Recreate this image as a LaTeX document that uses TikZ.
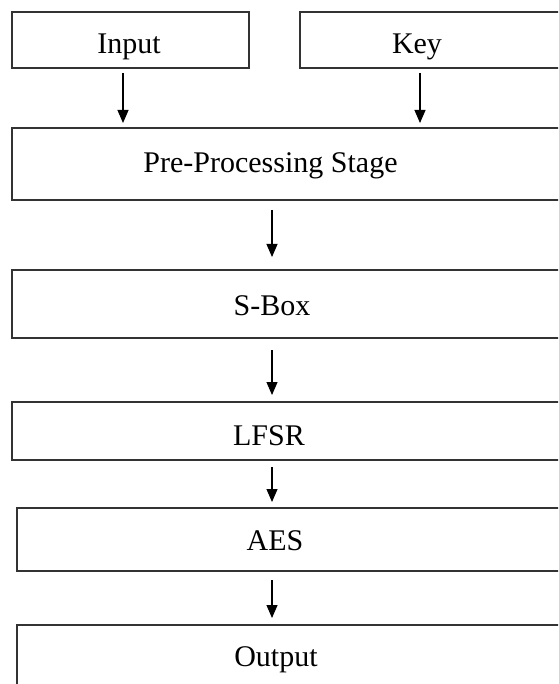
\documentclass[tikz,border=0pt]{standalone}
\usepackage{fontspec}
\setmainfont{Liberation Serif}
\usetikzlibrary{arrows.meta,positioning}
\tikzset{
 enc box/.style={draw=black!80,line width=1.3pt,rectangle,inner sep=0pt,
                 outer sep=0pt},
 enc text/.style={font=\fontsize{30}{34}\selectfont,inner sep=0pt},
 enc arrow/.style={line width=1.1pt,-{Triangle[length=13pt,width=11pt]}}
}

\begin{document}
\begin{tikzpicture}[x=1pt,y=-1pt]
 \useasboundingbox (0,0) rectangle (558,684);
 \clip (0,0) rectangle (558,684);
 \node[enc box,minimum width=237,minimum height=56] (in) at (130.5,40) {};
 \node[enc box,minimum width=280,minimum height=56] (key) at (440,40) {};
 \node[enc box,minimum width=568,minimum height=72] (pre) at (296,164) {};
 \node[enc box,minimum width=568,minimum height=68] (sbox) at (296,304) {};
 \node[enc box,minimum width=568,minimum height=58] (lfsr) at (296,431) {};
 \node[enc box,minimum width=563,minimum height=63] (aes) at (298.5,539.5) {};
 \node[enc box,minimum width=563,minimum height=100] (out) at (298.5,675) {};

 \node[enc text] (in text) at (129,47) {Input};
 \node[enc text] (key text) at (417,47) {Key};
 \node[enc text] (pre text) at (270.5,166) {Pre-Processing Stage};
 \node[enc text] (sbox text) at (272,306) {S-Box};
 \node[enc text] (lfsr text) at (269,436) {LFSR};
 \node[enc text] (aes text) at (275,541) {AES};
 \node[enc text] (out text) at (276,660) {Output};

 \coordinate (col in) at (123,0);
 \coordinate (col key) at (420,0);
 \coordinate (col mid) at (272,0);
 \draw[enc arrow,shorten <=5pt,shorten >=5pt] (in.south -| col in)--(pre.north -| col in);
 \draw[enc arrow,shorten <=5pt,shorten >=5pt] (key.south -| col key)--(pre.north -| col key);
 \draw[enc arrow,shorten <=10pt,shorten >=13pt] (pre.south -| col mid)--(sbox.north -| col mid);
 \draw[enc arrow,shorten <=12pt,shorten >=7pt] (sbox.south -| col mid)--(lfsr.north -| col mid);
 \draw[enc arrow,shorten <=7pt,shorten >=6pt] (lfsr.south -| col mid)--(aes.north -| col mid);
 \draw[enc arrow,shorten <=9pt,shorten >=7pt] (aes.south -| col mid)--(out.north -| col mid);
\end{tikzpicture}
\end{document}
